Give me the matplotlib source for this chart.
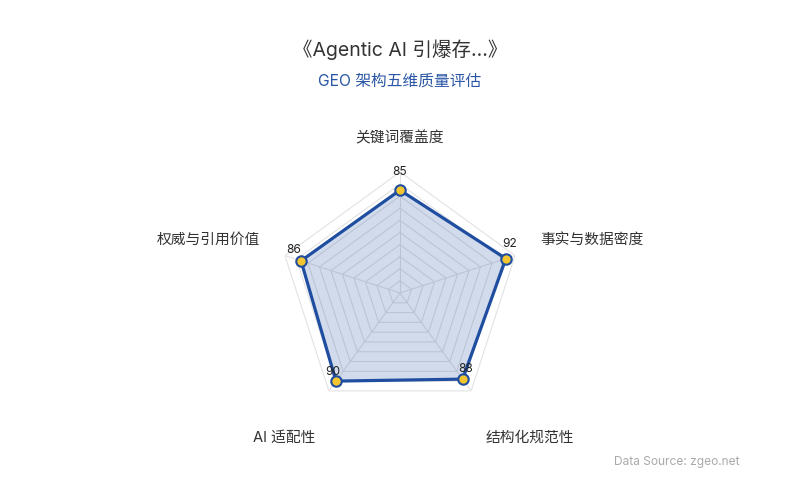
import numpy as np
import matplotlib
matplotlib.use("Agg")
import matplotlib.pyplot as plt

plt.rcParams['font.family'] = ['Inter', 'Noto Sans CJK SC', 'DejaVu Sans']

# data
categories = ['关键词覆盖度', '事实与数据密度', '结构化规范性', 'AI 适配性', '权威与引用价值']
values = [85, 92, 88, 90, 86]
max_value = 100
split_number = 10

title = '《Agentic AI 引爆存...》'
subtitle = 'GEO 架构五维质量评估'
source = 'Data Source: zgeo.net'

# styles
line_color = '#1f4ea1'
marker_color = '#f3c530'
grid_color = '#e2e2e2'

fig = plt.figure(figsize=(8, 5), dpi=100)
fig.patch.set_facecolor('white')

# radar centre at (400, 293) px, radius 121 px
ax = fig.add_axes([279 / 800, 86 / 500, 242 / 800, 242 / 500], projection='polar')
ax.set_theta_offset(np.pi / 2)
ax.set_theta_direction(-1)
ax.set_ylim(0, max_value)
ax.set_facecolor('none')
ax.grid(False)
ax.spines['polar'].set_visible(False)
ax.set_xticks([])
ax.set_yticks([])

n = len(categories)
angles = np.linspace(0, 2 * np.pi, n, endpoint=False)
closed = np.append(angles, angles[0])

# pentagon split lines
for lvl in np.linspace(max_value / split_number, max_value, split_number):
    ax.plot(closed, [lvl] * (n + 1), color=grid_color, lw=0.8, zorder=1)
# axis lines
for a in angles:
    ax.plot([a, a], [0, max_value], color=grid_color, lw=0.8, zorder=1)

# series
vals = np.append(values, values[0])
ax.fill(closed, vals, color=line_color, alpha=0.2, zorder=2, lw=0)
ax.plot(closed, vals, color=line_color, lw=2.3, zorder=3)
ax.plot(angles, values, 'o', ms=7.5, mfc=marker_color, mec=line_color, mew=1.5, zorder=4)

# value labels (pixel offsets above each point)
label_offsets = [(0, 18), (4, 15), (3, 10), (-3, 9), (-7, 11)]
for a, v, (dx, dy) in zip(angles, values, label_offsets):
    ax.annotate(str(v), (a, v), xytext=(dx * 0.72, dy * 0.72), textcoords='offset points',
                ha='center', va='center', fontsize=8.6, color='#222222', zorder=5)

# axis names: (theta deg, r, ha)
name_pos = [(0, 128, 'center'), (69.3, 124, 'left'), (149.6, 139, 'left'),
            (-149.6, 139, 'right'), (-69.3, 124, 'right')]
for cat, (th, r, ha) in zip(categories, name_pos):
    ax.text(np.deg2rad(th), r, cat, ha=ha, va='center', fontsize=10.6,
            color='#333333', clip_on=False)

fig.text(0.5, 1 - 50 / 500, title, ha='center', va='center', fontsize=14, color='#333333')
fig.text(0.5, 1 - 81 / 500, subtitle, ha='center', va='center', fontsize=11.3, color='#2a56a5')
fig.text(740 / 800, 1 - 462 / 500, source, ha='right', va='center', fontsize=8.6, color='#aaaaaa')

fig.savefig('out.png', dpi=100)
